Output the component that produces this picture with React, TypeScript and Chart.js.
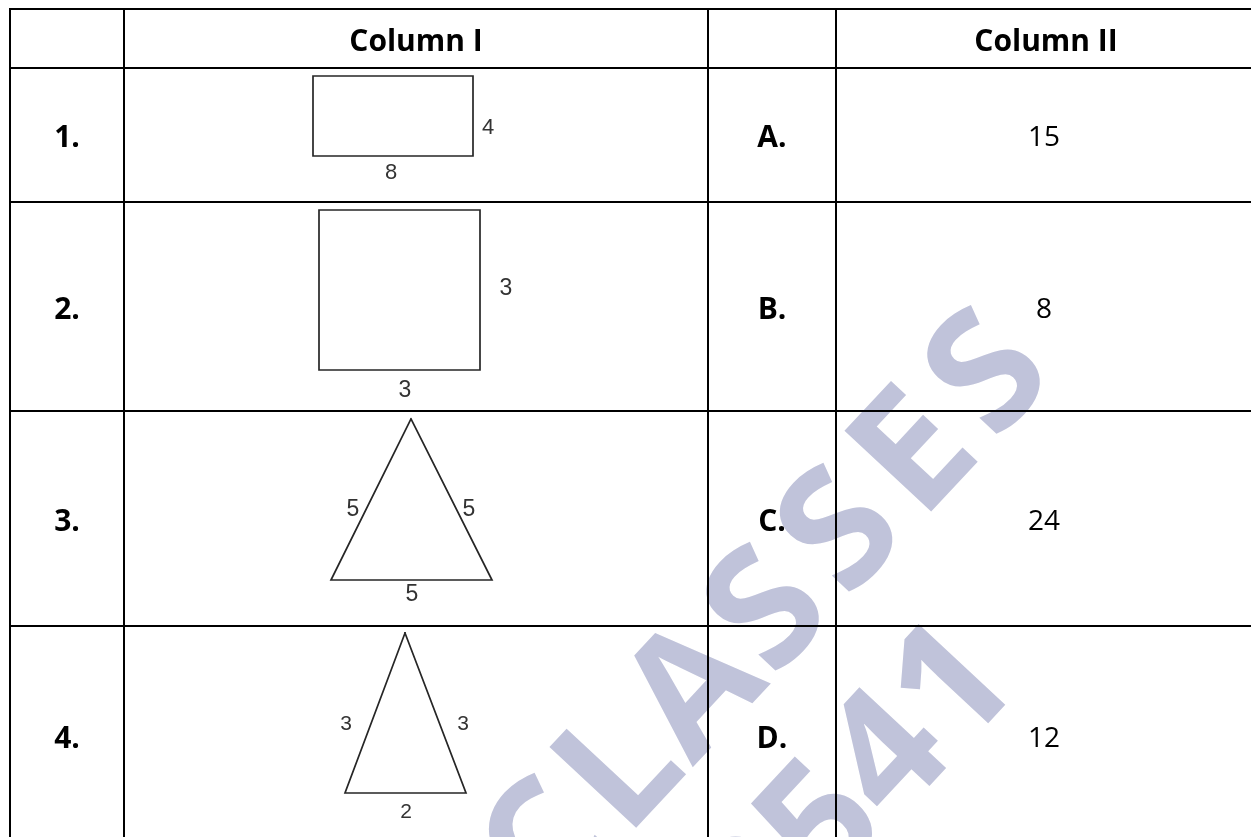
import { useEffect, useRef } from "react";
import { Chart, registerables } from "chart.js";

Chart.register(...registerables);

const W = 1251;
const H = 837;

// ---- content ----
const headerLabels = ["", "Column I", "", "Column II"];
const rowNumbers = ["1.", "2.", "3.", "4."];
const answerLetters = ["A.", "B.", "C.", "D."];
const answerValues = [15, 8, 24, 12];
const sideLabels = [["4", "8"], ["3", "3"], ["5", "5", "5"], ["3", "3", "2"]];
const watermarkLines = ["CLASSES", "9541"];

// ---- layout (page units) ----
const colEdges = [10, 124, 708, 836, 1256];
const rowEdges = [9, 68, 202, 411, 626, 845];
const figureOutlines: number[][][] = [
  [[313, 76], [473, 76], [473, 156], [313, 156], [313, 76]],
  [[319, 210], [480, 210], [480, 370], [319, 370], [319, 210]],
  [[411, 419], [492, 580], [331, 580], [411, 419]],
  [[405, 633], [466, 793], [345, 793], [405, 633]],
];
const sideLabelPos: number[][][] = [
  [[488, 126], [391, 171]],
  [[506, 287], [405, 389]],
  [[353, 508], [469, 508], [412, 593]],
  [[346, 722], [463, 722], [406, 810]],
];
const sideLabelSize = [22, 23, 23, 21];
const watermarkLayout = [
  { anchor: 3, x: 762, y: 606, advance: 108 },
  { anchor: 2, x: 882, y: 750, advance: 96 },
];
const watermarkAngleDeg = -47;
const watermarkFontSize = 166;

const HEAD_FONT = "'Open Sans', 'Noto Sans', sans-serif";
const LABEL_FONT = "'Liberation Sans', Arial, sans-serif";

export default function App() {
  const ref = useRef<HTMLCanvasElement | null>(null);

  useEffect(() => {
    const canvas = ref.current;
    if (!canvas) return;

    const datasets: any[] = [];
    const top = rowEdges[0];
    const bottom = rowEdges[rowEdges.length - 1];
    const left = colEdges[0];
    const right = colEdges[colEdges.length - 1];
    const lineBase = {
      showLine: true,
      pointRadius: 0,
      pointHoverRadius: 0,
      fill: false,
      tension: 0,
      clip: false,
    };
    colEdges.forEach((c) => {
      datasets.push({
        ...lineBase,
        data: [{ x: c, y: top }, { x: c, y: bottom }],
        borderColor: "#000000",
        borderWidth: 2,
        borderCapStyle: "square",
      });
    });
    rowEdges.forEach((r) => {
      datasets.push({
        ...lineBase,
        data: [{ x: left, y: r }, { x: right, y: r }],
        borderColor: "#000000",
        borderWidth: 2,
        borderCapStyle: "square",
      });
    });
    figureOutlines.forEach((poly) => {
      datasets.push({
        ...lineBase,
        data: poly.map(([x, y]) => ({ x, y })),
        borderColor: "#262626",
        borderWidth: 1.7,
        borderJoinStyle: "miter",
        borderCapStyle: "square",
      });
    });

    const watermarkPlugin = {
      id: "watermark",
      beforeDatasetsDraw(chart: any) {
        const ctx = chart.ctx as CanvasRenderingContext2D;
        const sx = chart.scales.x;
        const sy = chart.scales.y;
        const a = (watermarkAngleDeg * Math.PI) / 180;
        const dx = Math.cos(a);
        const dy = Math.sin(a);
        ctx.save();
        ctx.fillStyle = "#c0c3da";
        ctx.font = `bold ${watermarkFontSize}px ${HEAD_FONT}`;
        ctx.textAlign = "center";
        ctx.textBaseline = "alphabetic";
        watermarkLines.forEach((line, li) => {
          const lay = watermarkLayout[li];
          const chars = Array.from(line);
          chars.forEach((ch, i) => {
            const k = i - lay.anchor;
            const px = sx.getPixelForValue(lay.x + k * lay.advance * dx);
            const py = sy.getPixelForValue(lay.y + k * lay.advance * dy);
            ctx.save();
            ctx.translate(px, py);
            ctx.rotate(a);
            ctx.fillText(ch, 0, watermarkFontSize * 0.714 * 0.5);
            ctx.restore();
          });
        });
        ctx.restore();
      },
    };

    const textPlugin = {
      id: "tableText",
      afterDatasetsDraw(chart: any) {
        const ctx = chart.ctx as CanvasRenderingContext2D;
        const sx = chart.scales.x;
        const sy = chart.scales.y;
        const put = (t: string, x: number, y: number, font: string, size: number, color: string, capRatio: number) => {
          ctx.font = font;
          ctx.fillStyle = color;
          ctx.textAlign = "center";
          ctx.textBaseline = "alphabetic";
          ctx.fillText(t, sx.getPixelForValue(x), sy.getPixelForValue(y) + size * capRatio * 0.5);
        };
        ctx.save();
        const colCenter = (i: number) => (colEdges[i] + colEdges[i + 1]) / 2;
        const rowCenter = (i: number) => (rowEdges[i] + rowEdges[i + 1]) / 2 + 1.5;
        headerLabels.forEach((h, i) => {
          if (!h) return;
          put(h, colCenter(i), rowCenter(0), `bold 30px ${HEAD_FONT}`, 30, "#000", 0.714);
        });
        rowNumbers.forEach((n, r) => {
          put(n, colCenter(0), rowCenter(r + 1), `bold 30px ${HEAD_FONT}`, 30, "#000", 0.714);
        });
        answerLetters.forEach((n, r) => {
          put(n, colCenter(2), rowCenter(r + 1), `bold 30px ${HEAD_FONT}`, 30, "#000", 0.714);
        });
        answerValues.forEach((v, r) => {
          put(String(v), colCenter(3) - 2, rowCenter(r + 1), `28px ${HEAD_FONT}`, 28, "#000", 0.714);
        });
        sideLabels.forEach((labels, f) => {
          labels.forEach((lab, j) => {
            const [x, y] = sideLabelPos[f][j];
            const s = sideLabelSize[f];
            put(lab, x, y, `${s}px ${LABEL_FONT}`, s, "#333333", 0.716);
          });
        });
        ctx.restore();
      },
    };

    const chart = new Chart(canvas, {
      type: "scatter",
      data: { datasets },
      options: {
        animation: false,
        responsive: false,
        maintainAspectRatio: false,
        events: [],
        layout: { padding: 0 },
        plugins: {
          legend: { display: false },
          tooltip: { enabled: false },
          title: { display: false },
        },
        scales: {
          x: { type: "linear", min: 0, max: W, display: false },
          y: { type: "linear", min: 0, max: H, reverse: true, display: false },
        },
      },
      plugins: [watermarkPlugin, textPlugin],
    } as any);

    return () => chart.destroy();
  }, []);

  return (
    <div style={{ position: "fixed", left: 0, top: 0, width: W, height: H, background: "#ffffff" }}>
      <canvas ref={ref} width={W} height={H} style={{ display: "block", width: W, height: H }} />
    </div>
  );
}
